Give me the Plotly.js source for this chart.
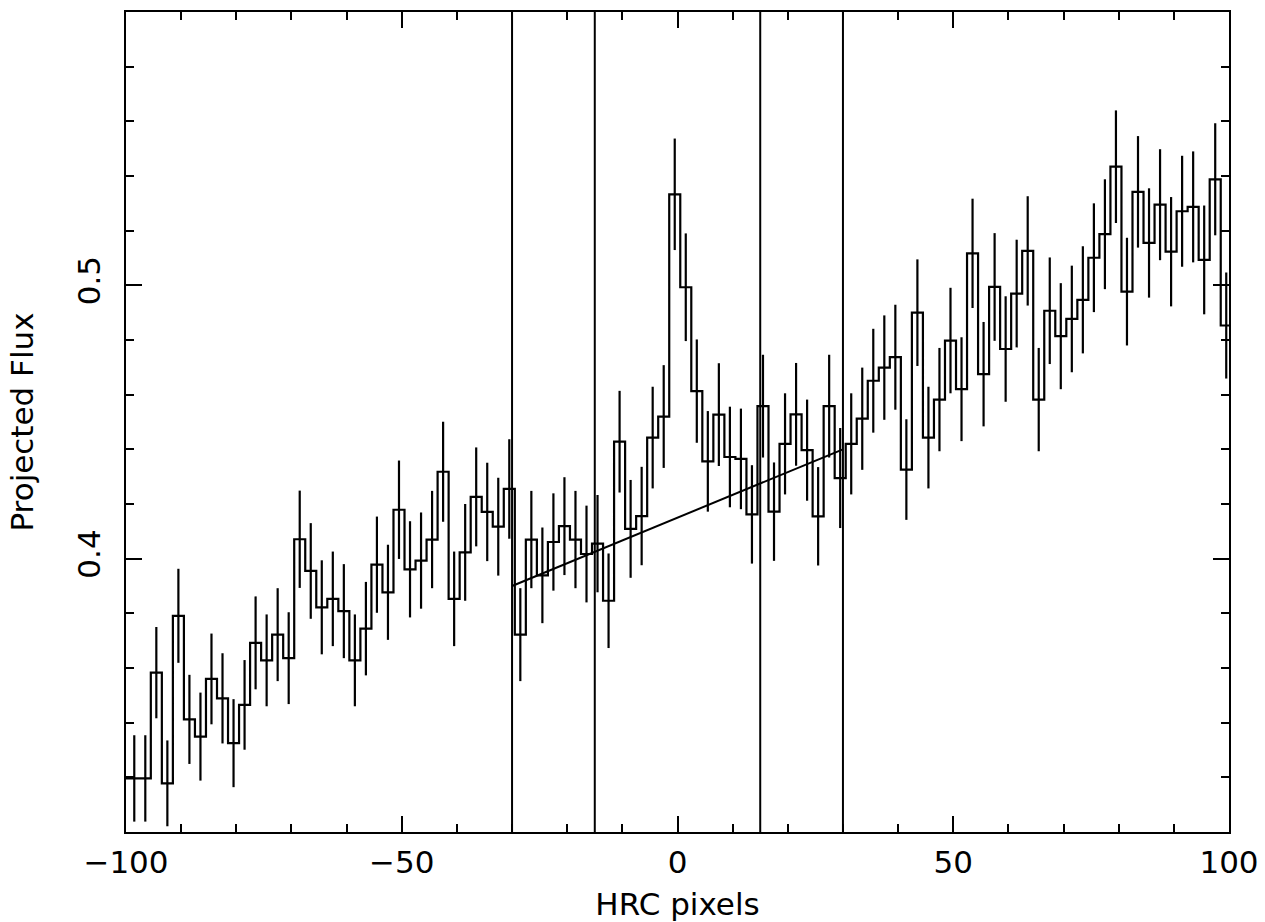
<!DOCTYPE html>
<html>
<head>
<meta charset="utf-8">
<script src="https://cdn.plot.ly/plotly-3.0.1.min.js"></script>
<style>html,body{margin:0;padding:0;background:#fff;}#plot{width:1265px;height:922px;}</style>
</head>
<body>
<div id="plot"></div>
<script>
// Bin centres (HRC pixels), bin width 2
const binCenters = [-100.5,-98.5,-96.5,-94.5,-92.5,-90.5,-88.5,-86.5,-84.5,-82.5,
  -80.5,-78.5,-76.5,-74.5,-72.5,-70.5,-68.5,-66.5,-64.5,-62.5,
  -60.5,-58.5,-56.5,-54.5,-52.5,-50.5,-48.5,-46.5,-44.5,-42.5,
  -40.5,-38.5,-36.5,-34.5,-32.5,-30.5,-28.5,-26.5,-24.5,-22.5,
  -20.5,-18.5,-16.5,-14.5,-12.5,-10.5,-8.5,-6.5,-4.5,-2.5,
  -0.5,1.5,3.5,5.5,7.5,9.5,11.5,13.5,15.5,17.5,
  19.5,21.5,23.5,25.5,27.5,29.5,31.5,33.5,35.5,37.5,
  39.5,41.5,43.5,45.5,47.5,49.5,51.5,53.5,55.5,57.5,
  59.5,61.5,63.5,65.5,67.5,69.5,71.5,73.5,75.5,77.5,
  79.5,81.5,83.5,85.5,87.5,89.5,91.5,93.5,95.5,97.5,
  99.5];
const binWidth = 2;
// Projected flux per bin
const flux = [0.3196,0.3196,0.3196,0.3583,0.3178,0.3791,0.3412,0.3349,0.3560,0.3489,
  0.3325,0.3465,0.3692,0.3628,0.3722,0.3636,0.4071,0.3955,0.3822,0.3853,
  0.3808,0.3628,0.3744,0.3978,0.3877,0.4179,0.3961,0.3993,0.4070,0.4318,
  0.3853,0.4023,0.4226,0.4171,0.4117,0.4255,0.3722,0.4070,0.3939,0.4061,
  0.4119,0.4070,0.4017,0.4055,0.3846,0.4428,0.4109,0.4156,0.4443,0.4520,
  0.5333,0.4993,0.4613,0.4356,0.4527,0.4372,0.4365,0.4162,0.4558,0.4172,
  0.4420,0.4528,0.4397,0.4155,0.4558,0.4295,0.4420,0.4512,0.4651,0.4699,
  0.4737,0.4326,0.4900,0.4443,0.4582,0.4798,0.4620,0.5117,0.4675,0.4994,
  0.4767,0.4970,0.5126,0.4582,0.4907,0.4814,0.4877,0.4947,0.5101,0.5187,
  0.5434,0.4977,0.5342,0.5155,0.5295,0.5123,0.5271,0.5287,0.5093,0.5388,
  0.4853];
// 1-sigma errors per bin
const fluxErr = [0.0158,0.0158,0.0158,0.0167,0.0157,0.0172,0.0163,0.0161,0.0166,0.0165,
  0.0161,0.0164,0.0170,0.0168,0.0170,0.0168,0.0178,0.0175,0.0172,0.0173,
  0.0172,0.0168,0.0171,0.0176,0.0174,0.0180,0.0176,0.0176,0.0178,0.0183,
  0.0173,0.0177,0.0181,0.0180,0.0179,0.0182,0.0170,0.0178,0.0175,0.0178,
  0.0179,0.0178,0.0177,0.0178,0.0173,0.0186,0.0179,0.0180,0.0186,0.0188,
  0.0204,0.0197,0.0189,0.0184,0.0188,0.0184,0.0184,0.0180,0.0188,0.0180,
  0.0185,0.0188,0.0185,0.0180,0.0188,0.0183,0.0185,0.0187,0.0190,0.0191,
  0.0192,0.0184,0.0195,0.0186,0.0189,0.0193,0.0190,0.0200,0.0191,0.0197,
  0.0193,0.0197,0.0200,0.0189,0.0195,0.0194,0.0195,0.0196,0.0199,0.0201,
  0.0206,0.0197,0.0204,0.0200,0.0203,0.0200,0.0203,0.0203,0.0199,0.0205,
  0.0194];
// Region boundaries and linear background fit
const regionLines = [-30, -15, 15, 30];
const fitX = [-30, 30];
const fitY = [0.39, 0.44];
const xTicks = [-100, -50, 0, 50, 100];
const yTicks = [0.4, 0.5];

// Build the step outline from bin centres
const stepX = [], stepY = [];
binCenters.forEach((c, i) => {
  stepX.push(c - binWidth / 2, c + binWidth / 2);
  stepY.push(flux[i], flux[i]);
});

const FONT = 'DejaVu Sans, Liberation Sans, Arial, sans-serif';

const traces = [
  {x: stepX, y: stepY, mode: 'lines', type: 'scatter',
   line: {color: '#000', width: 2.2, shape: 'linear'}, hoverinfo: 'skip'},
  {x: binCenters, y: flux, mode: 'markers', type: 'scatter',
   marker: {size: 0.1, color: 'rgba(0,0,0,0)'},
   error_y: {type: 'data', array: fluxErr, visible: true, color: '#000', thickness: 2.2, width: 0}},
  {x: fitX, y: fitY, mode: 'lines', type: 'scatter', line: {color: '#000', width: 2}}
];

const shapes = regionLines.map(v => ({
  type: 'line', xref: 'x', yref: 'paper', x0: v, x1: v, y0: 0, y1: 1,
  line: {color: '#000', width: 2}
}));

const axisCommon = {
  showline: true, linecolor: '#000', linewidth: 2, mirror: 'ticks',
  ticks: 'inside', tickcolor: '#000', tickwidth: 2, ticklen: 16,
  showgrid: false, zeroline: false, tickmode: 'array',
  tickfont: {family: FONT, size: 31, color: '#000'},
  fixedrange: true
};

const layout = {
  width: 1265, height: 922,
  margin: {l: 126, r: 36, t: 12, b: 90, pad: 0},
  paper_bgcolor: '#fff', plot_bgcolor: '#fff',
  showlegend: false,
  font: {family: FONT, color: '#000'},
  xaxis: Object.assign({}, axisCommon, {
    range: [-100, 100], tickvals: xTicks,
    ticklabelstandoff: 2,
    minor: {tickmode: 'linear', tick0: 0, dtick: 10, ticks: 'inside', ticklen: 8, tickwidth: 2, tickcolor: '#000', showgrid: false},
    title: {text: 'HRC pixels', font: {family: FONT, size: 31, color: '#000'}, standoff: 15}
  }),
  yaxis: Object.assign({}, axisCommon, {
    range: [0.3, 0.6], tickvals: yTicks, tickangle: -90,
    ticktext: ['0.4', '0.5'],
    ticklabelstandoff: 12,
    minor: {tickmode: 'linear', tick0: 0, dtick: 0.02, ticks: 'inside', ticklen: 8, tickwidth: 2, tickcolor: '#000', showgrid: false},
    title: {text: 'Projected Flux', font: {family: FONT, size: 31, color: '#000'}, standoff: 28}
  }),
  shapes: shapes
};

Plotly.newPlot('plot', traces, layout, {displayModeBar: false, staticPlot: true});
</script>
</body>
</html>
